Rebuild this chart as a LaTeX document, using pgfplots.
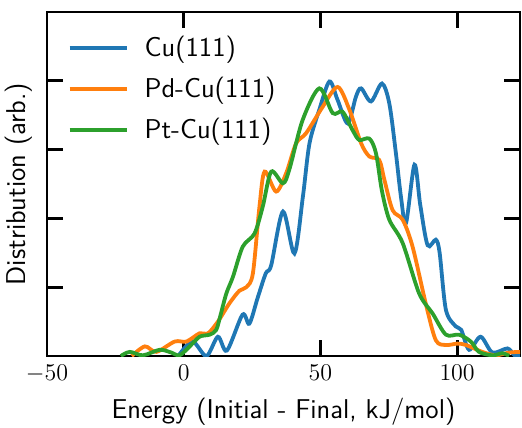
\documentclass[border=0pt]{standalone}
\usepackage{pgfplots}
\pgfplotsset{compat=1.18}
\definecolor{tabblue}{HTML}{1F77B4}
\definecolor{taborange}{HTML}{FF7F0E}
\definecolor{tabgreen}{HTML}{2CA02C}
\begin{document}
\begin{tikzpicture}
\path[use as bounding box] (-23.5pt,-35.5pt) rectangle (237.5pt,178pt);
\begin{axis}[
  scale only axis, width=236.5pt, height=172pt,
  xmin=-50, xmax=123, ymin=0, ymax=5,
  xtick={-50,0,50,100}, ytick={0,1,2,3,4,5}, yticklabels={},
  tick align=inside, major tick length=8pt,
  xtick pos=both, ytick pos=both,
  axis line style={line width=1.4pt},
  every tick/.style={line width=1.4pt, black},
  tick label style={font=\fontsize{12.6}{14}\selectfont},
  xticklabel style={yshift=-1pt},
  xlabel={\sffamily Energy (Initial - Final, kJ/mol)},
  ylabel={\sffamily Distribution (arb.)},
  label style={font=\fontsize{13.6}{16}\selectfont},
  xlabel style={yshift=-1pt},
  ylabel style={yshift=-3pt},
  legend style={draw=none, fill=none, at={(0.03,0.955)}, anchor=north west,
    font=\sffamily\fontsize{13.6}{16}\selectfont, row sep=4.8pt,
    /tikz/every odd column/.append style={column sep=6pt}},
  legend cell align=left,
  legend image code/.code={\draw[#1, line width=2pt] (0pt,0pt) -- (28.5pt,0pt);},
  every axis plot/.append style={line width=1.9pt, smooth, tension=0.5},
  clip=true,
]
\addplot[tabblue] coordinates {
(-2,0) (3.2,0.21) (8.3,0) (12.5,0.28) (15.8,0.08) (21.5,0.6) (24,0.47) (27,0.84) (30,1.2) (32,1.32) (36.3,2.1) (40.5,1.49) (43.6,2.32) (46,3.09) (49.6,3.58) (53.3,3.99) (56.3,3.72) (60,3.38) (63,3.77) (64.9,3.89) (68.5,3.7) (72.5,3.96) (75.2,3.67) (77.6,2.95) (79.5,2.3) (81.3,1.93) (84.4,2.78) (86.5,2.2) (89.2,1.61) (92.2,1.69) (93.6,1.5) (95.9,0.67) (99.5,0.43) (101.5,0.38) (104.4,0.09) (108.6,0.28) (112.9,0.05) (118.4,0.11) (121,0.01) (123,0)
};
\addlegendentry{Cu(111)}
\addplot[taborange] coordinates {
(-19,0) (-14.2,0.14) (-10,0.06) (-3.3,0.21) (1,0.21) (5.8,0.33) (8.9,0.33) (12.5,0.5) (16.8,0.77) (20.4,0.95) (22.9,1.0) (25.3,1.2) (27.7,2.17) (29.6,2.68) (33.8,2.39) (37.5,2.66) (41.1,3.09) (44.8,3.24) (50.8,3.62) (56.3,3.91) (60.6,3.58) (64.9,3.09) (67.9,2.9) (71.5,2.85) (73.4,2.56) (76.4,2.12) (80.1,1.98) (83.7,1.59) (88.6,0.75) (92.2,0.23) (95.9,0.16) (100.1,0.18) (103.2,0.16) (109.2,0.06) (114.1,0.01) (119,0.05) (123.3,0.06)
};
\addlegendentry{Pd-Cu(111)}
\addplot[tabgreen] coordinates {
(-23,0) (-19.7,0.06) (-14.9,0.01) (-8.8,0.09) (-4.5,0.05) (-1.5,0.01) (2.2,0.14) (5.8,0.28) (9.5,0.31) (11.9,0.38) (13.5,0.6) (15.6,0.91) (18,1.15) (21.6,1.59) (25.9,1.78) (28.9,2.17) (32,2.68) (36.3,2.51) (38.7,2.72) (43.5,3.43) (49.6,3.89) (54.5,3.53) (58.1,3.55) (61.8,3.28) (64.2,3.14) (67.9,3.16) (70.3,2.95) (72.5,2.4) (75.2,1.98) (80.1,1.64) (86.1,0.91) (91,0.62) (95.9,0.31) (100.7,0.31) (105,0.21) (108,0.06) (112.9,0.01) (116.6,0.04) (119,0)
};
\addlegendentry{Pt-Cu(111)}
\end{axis}
\end{tikzpicture}
\end{document}
